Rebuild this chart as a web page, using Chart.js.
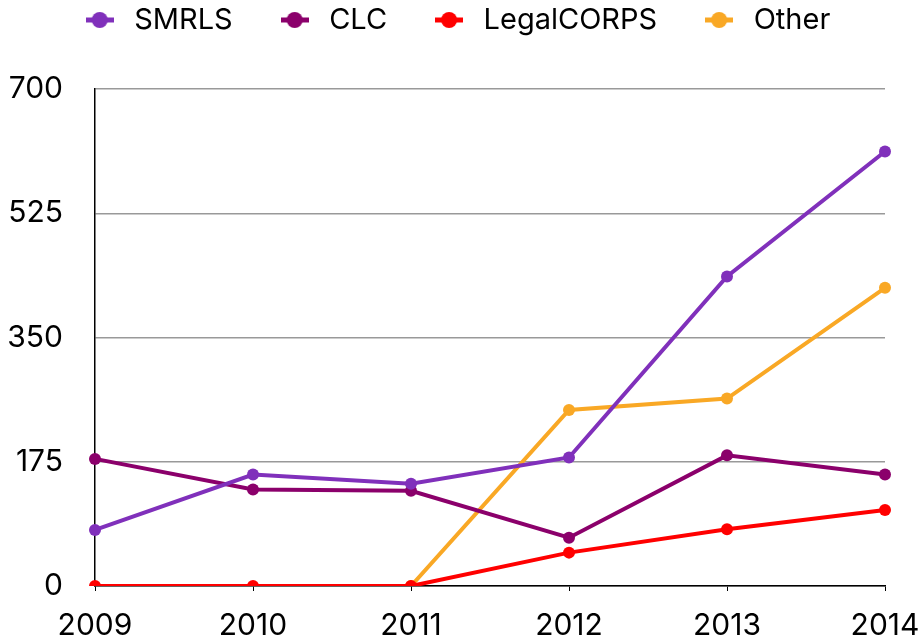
<!DOCTYPE html>
<html>
<head>
<meta charset="utf-8">
<script src="https://cdn.jsdelivr.net/npm/chart.js@4"></script>
<style>
  html, body { margin: 0; padding: 0; background: #fff; }
  #wrap { width: 922px; height: 641px; }
</style>
</head>
<body>
<div id="wrap"><canvas id="chart" width="922" height="641"></canvas></div>
<script>
const years = ['2009', '2010', '2011', '2012', '2013', '2014'];
const smrls = [79, 157, 144, 181, 436, 612];
const clc = [179, 136, 134, 68, 184, 157];
const legalCorps = [0, 0, 0, 47, 80, 107];
const other = [null, null, 0, 248, 264, 420];
const yTicks = [0, 175, 350, 525, 700];

const FONT = 'Inter, "Liberation Sans", Arial, sans-serif';
const LEGEND_PAD = 42;
const LEGEND_FONT = 29;

// legend marker: short line with a dot in the middle
function legendMarker(color) {
    const c = document.createElement('canvas');
    c.width = 28;
    c.height = 18;
    const ctx = c.getContext('2d');
    ctx.strokeStyle = color;
    ctx.lineWidth = 5;
    ctx.beginPath();
    ctx.moveTo(0, 9);
    ctx.lineTo(28, 9);
    ctx.stroke();
    ctx.fillStyle = color;
    ctx.beginPath();
    ctx.arc(14, 9, 8, 0, Math.PI * 2);
    ctx.fill();
    return c;
}

// legend takes the whole band above the plot, drawn a bit higher and left
const legendPlace = {
    id: 'legendPlace',
    beforeInit(chart) {
        const lg = chart.legend;
        const fit = lg.fit;
        lg.fit = function () {
            fit.call(this);
            this.height = 89;
        };
        const draw = lg.draw;
        lg.draw = function () {
            const ctx = this.ctx;
            ctx.save();
            ctx.translate(-6, 20 - (LEGEND_PAD + LEGEND_FONT / 2));
            draw.apply(this, arguments);
            ctx.restore();
        };
    }
};

function series(label, data, color) {
    return {
        label: label,
        data: data,
        borderColor: color,
        backgroundColor: color,
        pointBackgroundColor: color,
        pointBorderWidth: 0,
        pointRadius: 6,
        pointHoverRadius: 6,
        borderWidth: 4,
        tension: 0,
        spanGaps: false
    };
}

new Chart(document.getElementById('chart'), {
    type: 'line',
    data: {
        labels: years,
        datasets: [
            series('SMRLS', smrls, '#8030bb'),
            series('CLC', clc, '#8b006b'),
            series('LegalCORPS', legalCorps, '#ff0000'),
            series('Other', other, '#f9a825')
        ]
    },
    plugins: [legendPlace],
    options: {
        responsive: false,
        animation: false,
        layout: { padding: 0 },
        plugins: {
            tooltip: { enabled: false },
            legend: {
                position: 'top',
                labels: {
                    usePointStyle: true,
                    pointStyleWidth: 40,
                    padding: LEGEND_PAD,
                    color: '#000',
                    font: { family: FONT, size: LEGEND_FONT },
                    generateLabels: (chart) => {
                        const items = Chart.defaults.plugins.legend.labels.generateLabels(chart);
                        items.forEach(it => {
                            it.pointStyle = legendMarker(chart.data.datasets[it.datasetIndex].borderColor);
                        });
                        return items;
                    }
                }
            }
        },
        scales: {
            x: {
                offset: false,
                afterFit: (axis) => {
                    axis.height = 55;
                    axis.paddingLeft = 0;
                    axis.paddingRight = 37;
                },
                grid: { drawOnChartArea: false, drawTicks: true, tickLength: 5, color: '#000' },
                border: { color: '#000', width: 1.5 },
                ticks: { color: '#000', padding: 17, font: { family: FONT, size: 30 }, maxRotation: 0 }
            },
            y: {
                min: 0,
                max: 700,
                afterBuildTicks: (axis) => { axis.ticks = yTicks.map(v => ({ value: v })); },
                afterFit: (axis) => { axis.width = 95; },
                grid: { color: '#999', lineWidth: 1.5, drawTicks: false },
                border: { color: '#000', width: 1.5 },
                ticks: { color: '#000', padding: 32, font: { family: FONT, size: 30 } }
            }
        }
    }
});
</script>
</body>
</html>
